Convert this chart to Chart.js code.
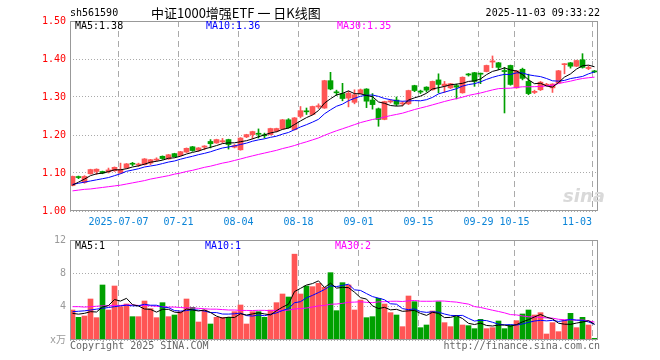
<!DOCTYPE html>
<html><head><meta charset="utf-8">
<script src="https://cdn.jsdelivr.net/npm/chart.js@4.4.1/dist/chart.umd.min.js"></script>
<style>
html,body{margin:0;padding:0;background:#fff}
#wrap{position:relative;width:660px;height:360px;overflow:hidden;background:#fff}
canvas{position:absolute;left:0}
.t{position:absolute;white-space:pre;font:10px/12px "DejaVu Sans Mono","Noto Sans CJK SC",monospace}
</style></head><body>
<div id="wrap">
<canvas id="kc" width="660" height="230" style="top:0"></canvas>
<canvas id="vc" width="660" height="130" style="top:230px"></canvas>
<div class="t" style="left:70px;top:7px;color:#000">sh561590</div>
<div class="t" style="left:151px;top:5px;font:13px/16px 'Noto Sans CJK SC',sans-serif;color:#000">中证1000增强ETF 一 日K线图</div>
<div class="t" style="right:60px;top:7px;color:#000">2025-11-03 09:33:22</div>
<div class="t" style="left:75px;top:20px;color:#000">MA5:1.38</div>
<div class="t" style="left:206px;top:20px;color:#0000ff">MA10:1.36</div>
<div class="t" style="left:337px;top:20px;color:#ff00ff">MA30:1.35</div>
<div class="t" style="left:75px;top:240px;color:#000">MA5:1</div>
<div class="t" style="left:205px;top:240px;color:#0000ff">MA10:1</div>
<div class="t" style="left:335px;top:240px;color:#ff00ff">MA30:2</div>
<div class="t" style="left:563px;top:186px;font:italic bold 18px/20px 'DejaVu Sans',sans-serif;color:#d9d9d9">sina</div>
<div class="t" style="left:70px;top:340px;color:#666">Copyright 2025 SINA.COM</div>
<div class="t" style="right:60px;top:340px;color:#666">http://finance.sina.com.cn</div>
</div>
<script>
const dates = [
'2025-06-25','2025-06-26','2025-06-27','2025-06-30',
'2025-07-01','2025-07-02','2025-07-03','2025-07-04',
'2025-07-07','2025-07-08','2025-07-09','2025-07-10','2025-07-11',
'2025-07-14','2025-07-15','2025-07-16','2025-07-17','2025-07-18',
'2025-07-21','2025-07-22','2025-07-23','2025-07-24','2025-07-25',
'2025-07-28','2025-07-29','2025-07-30','2025-07-31','2025-08-01',
'2025-08-04','2025-08-05','2025-08-06','2025-08-07','2025-08-08',
'2025-08-11','2025-08-12','2025-08-13','2025-08-14','2025-08-15',
'2025-08-18','2025-08-19','2025-08-20','2025-08-21','2025-08-22',
'2025-08-25','2025-08-26','2025-08-27','2025-08-28','2025-08-29',
'2025-09-01','2025-09-02','2025-09-03','2025-09-04','2025-09-05',
'2025-09-08','2025-09-09','2025-09-10','2025-09-11','2025-09-12',
'2025-09-15','2025-09-16','2025-09-17','2025-09-18','2025-09-19',
'2025-09-22','2025-09-23','2025-09-24','2025-09-25','2025-09-26',
'2025-09-29','2025-09-30','2025-10-09','2025-10-10',
'2025-10-13','2025-10-14','2025-10-15','2025-10-16','2025-10-17',
'2025-10-20','2025-10-21','2025-10-22','2025-10-23','2025-10-24',
'2025-10-27','2025-10-28','2025-10-29','2025-10-30','2025-10-31',
'2025-11-03'];
const tickDates = ['2025-07-07','2025-07-21','2025-08-04','2025-08-18','2025-09-01','2025-09-15','2025-09-29','2025-10-15','2025-11-03'];
const tickLabels = ['2025-07-07','07-21','08-04','08-18','09-01','09-15','09-29','10-15','11-03'];

const open = [
1.067,1.090,1.075,1.098,1.104,1.104,1.103,1.106,1.100,1.113,
1.125,1.121,1.122,1.126,1.134,1.144,1.137,1.151,1.146,1.155,
1.169,1.160,1.168,1.183,1.179,1.182,1.188,1.168,1.161,1.195,
1.201,1.204,1.200,1.201,1.210,1.216,1.240,1.214,1.249,1.263,
1.254,1.274,1.271,1.343,1.313,1.309,1.297,1.286,1.309,1.321,
1.292,1.269,1.241,1.287,1.292,1.282,1.282,1.330,1.315,1.326,
1.319,1.345,1.329,1.324,1.330,1.311,1.360,1.364,1.362,1.367,
1.392,1.390,1.369,1.383,1.324,1.373,1.341,1.312,1.319,1.331,
1.324,1.337,1.385,1.390,1.381,1.398,1.375,1.368];
const high = [
1.092,1.092,1.093,1.110,1.111,1.105,1.113,1.116,1.126,1.125,
1.128,1.126,1.138,1.136,1.140,1.145,1.149,1.152,1.157,1.166,
1.170,1.167,1.172,1.188,1.189,1.191,1.189,1.175,1.193,1.202,
1.210,1.216,1.205,1.218,1.218,1.241,1.243,1.246,1.275,1.271,
1.276,1.282,1.344,1.365,1.318,1.336,1.315,1.319,1.321,1.322,
1.309,1.271,1.289,1.293,1.300,1.288,1.318,1.331,1.318,1.327,
1.342,1.361,1.341,1.336,1.334,1.353,1.362,1.365,1.363,1.384,
1.408,1.391,1.378,1.384,1.370,1.376,1.360,1.318,1.341,1.336,
1.335,1.370,1.388,1.391,1.397,1.414,1.382,1.370];
const low = [
1.066,1.085,1.073,1.097,1.096,1.098,1.100,1.104,1.099,1.112,
1.119,1.117,1.121,1.122,1.131,1.136,1.136,1.142,1.145,1.154,
1.157,1.157,1.161,1.166,1.178,1.179,1.163,1.166,1.160,1.193,
1.190,1.192,1.192,1.200,1.208,1.215,1.218,1.213,1.245,1.254,
1.253,1.270,1.270,1.319,1.304,1.290,1.274,1.282,1.308,1.272,
1.268,1.223,1.240,1.284,1.277,1.277,1.280,1.314,1.309,1.313,
1.318,1.311,1.312,1.322,1.295,1.310,1.355,1.328,1.335,1.366,
1.377,1.372,1.258,1.331,1.323,1.345,1.306,1.309,1.317,1.329,
1.312,1.336,1.361,1.376,1.380,1.376,1.372,1.364];
const close = [
1.091,1.088,1.091,1.109,1.110,1.100,1.108,1.115,1.109,1.124,
1.123,1.123,1.137,1.135,1.136,1.138,1.148,1.143,1.156,1.165,
1.159,1.166,1.171,1.177,1.188,1.185,1.175,1.172,1.192,1.201,
1.209,1.202,1.198,1.217,1.217,1.240,1.219,1.245,1.264,1.261,
1.275,1.277,1.343,1.321,1.311,1.296,1.310,1.306,1.319,1.289,
1.280,1.241,1.288,1.290,1.281,1.284,1.317,1.317,1.313,1.318,
1.341,1.333,1.334,1.335,1.326,1.352,1.358,1.341,1.360,1.383,
1.395,1.378,1.367,1.333,1.369,1.349,1.309,1.315,1.339,1.333,
1.334,1.369,1.387,1.381,1.396,1.378,1.377,1.366];
const volume = [
3.6,2.72,2.88,4.92,2.68,6.6,3.6,6.48,4.0,4.32,
2.8,2.8,4.68,3.76,2.68,4.48,2.8,3.0,3.4,4.92,
3.92,2.16,3.6,1.92,2.72,2.72,2.72,3.4,4.2,1.92,
3.4,3.4,2.72,3.6,4.48,5.52,5.16,10.3,5.52,6.48,
6.4,6.8,6.32,8.08,3.52,6.88,6.6,3.6,4.8,2.68,
2.8,5.0,4.32,3.28,3.0,1.6,5.28,4.6,1.48,1.8,
3.48,4.6,2.08,1.6,2.8,1.8,1.72,1.36,2.48,1.36,
1.48,2.28,1.36,1.8,2.32,3.12,3.6,3.0,3.28,0.72,
2.08,1.0,2.4,3.2,1.48,2.72,1.8,0.2];

// Moving-average values at the left edge (their earlier days are off the chart)
const ma5Head  = [1.068,1.076,1.084,1.093];
const ma10Head = [1.070,1.073,1.076,1.079,1.082,1.085,1.088,1.093,1.098];
const ma30Head = [1.053,1.055,1.057,1.058,1.060,1.062,1.064,1.066,1.068,1.071,
                  1.074,1.077,1.080,1.084,1.087,1.090,1.093,1.097,1.100,1.104,
                  1.107,1.111,1.115,1.118,1.122,1.126,1.129,1.133,1.137];
const volMa5Head  = [3.2,3.1,3.2,3.4];
const volMa10Head = [3.4,3.45,3.5,3.6,3.7,3.8,3.9,4.0,4.1];
const volMa30Head = [4.0,4.0,3.95,4.0,4.05,4.1,4.1,4.15,4.15,4.2,
                     4.2,4.15,4.15,4.1,4.05,4.0,3.95,3.95,3.9,3.85,
                     3.85,3.8,3.75,3.7,3.7,3.65,3.6,3.6,3.55];

function movingAvg(src, n, head){
  return src.map((_, i) => {
    if (i < n - 1) return head[i];
    let s = 0; for (let k = i - n + 1; k <= i; k++) s += src[k];
    return s / n;
  });
}

const UP = '#ff5555', DOWN = '#00a000';
const MONO = '"DejaVu Sans Mono","Noto Sans CJK SC",monospace';
const XMIN = -5/12, XMAX = 88 - 5/12;
const GRID_SHIFT = 1/3;
const tickIdx = tickDates.map(d => dates.indexOf(d));
const isUp = close.map((c, i) => c >= open[i]);
const colorOf = ctx => isUp[ctx.dataIndex] ? UP : DOWN;
const pts = arr => arr.map((v, i) => ({x: i, y: v}));

const frame = { id:'frame', afterDraw(c){ const {ctx, chartArea:a} = c; ctx.save(); ctx.strokeStyle='#999'; ctx.lineWidth=1;
  ctx.strokeRect(a.left+0.5, a.top+0.5, a.right-a.left-1, a.bottom-a.top-1); ctx.restore(); } };

function gridAxis(h){
  return { type:'linear', position:'bottom', min:XMIN, max:XMAX, offset:false,
    afterBuildTicks: s => { s.ticks = tickIdx.map(i => ({value: i - GRID_SHIFT})); },
    afterFit: s => { s.height = h; },
    ticks:{display:false, autoSkip:false},
    grid:{color:'#aaa', lineWidth:1, drawTicks:false, offset:false},
    border:{display:false, dash:[6,4]} };
}
function lineDs(data, color){
  return { type:'line', data: pts(data), borderColor: color, borderWidth:1, pointRadius:0, tension:0, order:0, xAxisID:'x' };
}
const common = { responsive:false, animation:false, devicePixelRatio:1,
  plugins:{legend:{display:false}, tooltip:{enabled:false}} };

new Chart(document.getElementById('kc'), {
  type:'bar',
  data:{ datasets:[
    lineDs(movingAvg(close,5,ma5Head), '#000000'),
    lineDs(movingAvg(close,10,ma10Head), '#0000ff'),
    lineDs(movingAvg(close,30,ma30Head), '#ff00ff'),
    { data: open.map((o,i)=>({x:i, y:[o, close[i]]})), backgroundColor:colorOf, grouped:false,
      barThickness:5, maxBarThickness:5, minBarLength:1, order:1, xAxisID:'x' },
    { data: low.map((l,i)=>({x:i, y:[l, high[i]]})), backgroundColor:colorOf, grouped:false,
      barThickness:1, maxBarThickness:1, minBarLength:1, order:2, xAxisID:'x' }
  ]},
  options: Object.assign({}, common, {
    layout:{padding:{top:21, right:62, left:0, bottom:0}},
    scales:{
      x: gridAxis(0),
      xl: { type:'linear', position:'bottom', min:XMIN, max:XMAX, offset:false,
        afterBuildTicks: s => { s.ticks = tickIdx.map(i => ({value: Math.min(i - GRID_SHIFT, XMAX - 3.5)})); },
        afterFit: s => { s.height = 19; },
        ticks:{autoSkip:false, maxRotation:0, minRotation:0, color:'#0a84d8', font:{family:MONO, size:10}, padding:5,
          callback:(v, i) => tickLabels[i]},
        grid:{display:false, drawTicks:false}, border:{display:false} },
      y: { type:'linear', min:1, max:1.5, beginAtZero:false,
        afterFit: s => { s.width = 70; },
        ticks:{stepSize:0.1, color:'#ff0000', font:{family:MONO, size:10}, padding:4, callback:v => Number(v).toFixed(2)},
        grid:{color:'#aaa', drawTicks:false}, border:{display:false, dash:[1,2]} }
    }
  }),
  plugins:[frame]
});

new Chart(document.getElementById('vc'), {
  type:'bar',
  data:{ datasets:[
    lineDs(movingAvg(volume,5,volMa5Head), '#000000'),
    lineDs(movingAvg(volume,10,volMa10Head), '#0000ff'),
    lineDs(movingAvg(volume,30,volMa30Head), '#ff00ff'),
    { data: pts(volume), backgroundColor:colorOf, grouped:false, barThickness:5, maxBarThickness:5, order:1, xAxisID:'x' }
  ]},
  options: Object.assign({}, common, {
    layout:{padding:{top:10, right:62, left:0, bottom:0}},
    scales:{
      x: gridAxis(20),
      y: { type:'linear', min:0, max:12, beginAtZero:true,
        afterFit: s => { s.width = 70; },
        ticks:{stepSize:4, color:'#999', font:{family:MONO, size:10}, padding:4, callback:v => v === 0 ? 'x万' : String(v)},
        grid:{color:'#aaa', drawTicks:false}, border:{display:false, dash:[1,2]} }
    }
  }),
  plugins:[frame]
});
</script>
</body></html>
